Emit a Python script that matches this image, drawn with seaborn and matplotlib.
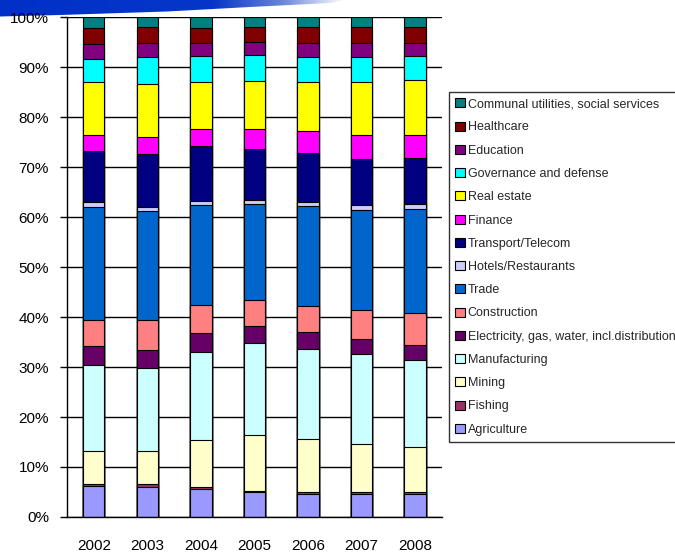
import matplotlib
matplotlib.use("Agg")
import matplotlib.pyplot as plt
from matplotlib.colors import LinearSegmentedColormap
from matplotlib.patches import Polygon, Patch
import numpy as np
import pandas as pd
import seaborn as sns

years = ["2002", "2003", "2004", "2005", "2006", "2007", "2008"]

# sectors bottom to top
sectors = [
    "Agriculture", "Fishing", "Mining", "Manufacturing",
    "Electricity, gas, water, incl.distribution", "Construction", "Trade",
    "Hotels/Restaurants", "Transport/Telecom", "Finance", "Real estate",
    "Governance and defense", "Education", "Healthcare",
    "Communal utilities, social services",
]
colors = [
    "#9999FF", "#993366", "#FFFFCC", "#CCFFFF", "#660066", "#FF8080", "#0066CC",
    "#CCCCFF", "#000080", "#FF00FF", "#FFFF00", "#00FFFF", "#800080", "#800000",
    "#008080",
]

agriculture = [6.3, 6.1, 5.6, 5.1, 4.7, 4.7, 4.7]
fishing = [0.4, 0.6, 0.5, 0.2, 0.3, 0.3, 0.3]
mining = [6.6, 6.6, 9.4, 11.2, 10.7, 9.7, 9.1]
manufacturing = [17.2, 16.6, 17.5, 18.4, 18.0, 18.0, 17.4]
electricity = [3.7, 3.6, 3.9, 3.4, 3.4, 3.0, 3.0]
construction = [5.3, 6.0, 5.6, 5.2, 5.2, 5.8, 6.4]
trade = [22.6, 21.8, 20.0, 19.2, 20.0, 20.0, 20.7]
hotels = [0.9, 0.8, 0.8, 0.8, 0.8, 0.9, 1.0]
transport = [10.3, 10.6, 11.0, 10.2, 9.8, 9.3, 9.3]
finance = [3.1, 3.3, 3.4, 4.0, 4.4, 4.8, 4.6]
real_estate = [10.6, 10.7, 9.3, 9.6, 9.8, 10.6, 10.9]
governance = [4.7, 5.4, 5.3, 5.2, 5.0, 5.0, 4.9]
education = [3.0, 2.7, 2.6, 2.5, 2.7, 2.8, 2.6]
healthcare = [3.2, 3.2, 3.0, 3.0, 3.2, 3.1, 3.1]
communal = [2.1, 2.0, 2.1, 2.0, 2.0, 2.0, 2.0]

series = [agriculture, fishing, mining, manufacturing, electricity, construction,
          trade, hotels, transport, finance, real_estate, governance, education,
          healthcare, communal]

sns.set_theme(style="white")
plt.rcParams["font.family"] = ["Liberation Sans", "DejaVu Sans"]

df = pd.DataFrame(dict(zip(sectors, series)), index=years)
df = df.div(df.sum(axis=1), axis=0) * 100
cum = df.cumsum(axis=1)

fig = plt.figure(figsize=(6.75, 5.54), dpi=100)

# slide decoration in the top-left corner
bg = fig.add_axes([0, 0, 1, 1], zorder=0)
bg.set_xlim(0, 675)
bg.set_ylim(554, 0)
bg.axis("off")
band = Polygon([(0, 0), (345, 0), (330, 3), (250, 7), (167, 11.5), (60, 15), (0, 16.5)],
               closed=True, facecolor="none", edgecolor="none")
bg.add_patch(band)
cmap = LinearSegmentedColormap.from_list(
    "band", [(0, "#0030C8"), (0.62, "#0636C8"), (0.82, "#6A86DA"), (1, "#FFFFFF")])
img = bg.imshow(np.linspace(0, 1, 256)[None, :], cmap=cmap, aspect="auto",
                extent=(0, 345, 17, 0), interpolation="bilinear")
img.set_clip_path(band)

ax = fig.add_axes([67 / 675, 1 - 517 / 554, (442 - 67) / 675, 500 / 554], zorder=1)

# draw from the top segment down so each lower segment overlays the stack
for name, col in reversed(list(zip(sectors, colors))):
    sns.barplot(x=cum.index, y=cum[name], color=col, width=0.4,
                edgecolor="black", linewidth=0.8, saturation=1, ax=ax)

ax.set_xlim(-0.5, 6.5)
ax.set_ylim(0, 100)
ax.set_yticks(range(0, 101, 10))
ax.set_yticklabels([f"{v}%" for v in range(0, 101, 10)])
ax.set_xlabel("")
ax.set_ylabel("")
ax.yaxis.grid(True, color="black", linewidth=1)
ax.set_axisbelow(True)
for s in ["top", "right"]:
    ax.spines[s].set_visible(False)
for s in ["left", "bottom"]:
    ax.spines[s].set_color("black")
    ax.spines[s].set_linewidth(1)

ax.set_xticks(np.arange(-0.5, 7, 1), minor=True)
ax.tick_params(axis="x", which="major", length=0, pad=16, labelsize=11, colors="black")
ax.tick_params(axis="x", which="minor", length=6, width=1, color="black", direction="out")
ax.tick_params(axis="y", which="major", length=5, width=1, color="black", left=True,
               direction="out", pad=8, labelsize=11, labelcolor="black")

handles = [Patch(facecolor=c, edgecolor="black", linewidth=0.8, label=n)
           for n, c in zip(sectors, colors)][::-1]
leg = fig.legend(handles=handles, loc="upper left", bbox_to_anchor=(449 / 675, 1 - 92 / 554),
                 frameon=True, fontsize=9.0, handlelength=0.75, handleheight=0.75,
                 handletextpad=0.25, labelspacing=0.9, borderpad=0.5, borderaxespad=0)
leg.get_frame().set_edgecolor("black")
leg.get_frame().set_linewidth(1)
leg.get_frame().set_boxstyle("square", pad=0)

fig.savefig("out.png", dpi=100)
